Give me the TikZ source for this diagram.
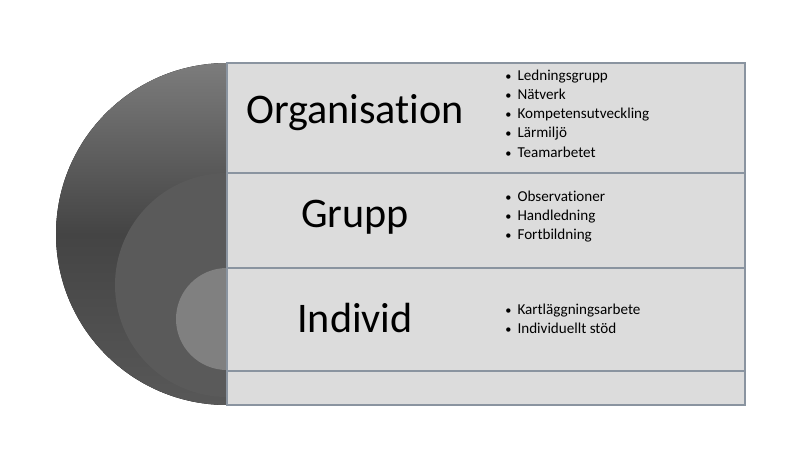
\documentclass[tikz,border=0pt]{standalone}
\usepackage{fontspec}
\setmainfont{Carlito}[Ligatures=NoCommon]
\usepackage{tikz}
\newcommand\itm{{\fontsize{7}{7}\selectfont\textbullet}\hspace{0.4em}}
\definecolor{ring_top}{RGB}{124,124,124}
\definecolor{ring_mid}{RGB}{68,68,68}
\definecolor{ring_bot}{RGB}{88,88,88}
\definecolor{ring_grp}{RGB}{90,90,90}
\definecolor{ring_ind}{RGB}{128,128,128}
\definecolor{row_fill}{RGB}{220,220,220}
\definecolor{row_edge}{RGB}{138,148,160}

\begin{document}
\begin{tikzpicture}
    \tikzstyle{row}=[draw=row_edge, fill=row_fill, line width=0.6pt]
    \tikzstyle{title}=[text=black, font=\fontsize{24}{28}\selectfont]
    \tikzstyle{items}=[anchor=west, align=left, inner sep=0pt, text=black,
                       font=\fontsize{8.6}{10.9}\selectfont]

    \useasboundingbox (0,0) rectangle (16,9);

    % half circles
    \fill[top color=ring_top, bottom color=ring_bot, middle color=ring_mid]
        (4.54,7.74) arc (90:270:3.42) -- cycle;
    \fill[ring_grp] (4.54,5.54) arc (90:270:2.24) -- cycle;
    \fill[ring_ind] (4.54,3.64) arc (90:270:1.02) -- cycle;

    % rows
    \coordinate (nw) at (4.54,7.74);
    \coordinate (se) at (14.90,0.90);
    \draw[row] (nw) rectangle (se);
    \coordinate (s1) at (4.54,5.54);  \coordinate (e1) at (14.90,5.54);
    \coordinate (s2) at (4.54,3.64);  \coordinate (e2) at (14.90,3.64);
    \coordinate (s3) at (4.54,1.58);  \coordinate (e3) at (14.90,1.58);
    \draw[row_edge, line width=0.6pt] (s1) -- (e1) (s2) -- (e2) (s3) -- (e3);

    \node[title] (org) at (7.10,6.74) {Organisation};
    \node[title] (grp) at (7.10,4.66) {Grupp};
    \node[title] (ind) at (7.10,2.64) {Individ};

    \node[items] (orgl) at (10.10,6.73) {\itm Ledningsgrupp\\ \itm Nätverk\\
        \itm Kompetensutveckling\\ \itm Lärmiljö\\ \itm Teamarbetet};
    \node[items] (grpl) at (10.10,4.67) {\itm Observationer\\ \itm Handledning\\
        \itm Fortbildning};
    \node[items] (indl) at (10.10,2.62) {\itm Kartläggningsarbete\\
        \itm Individuellt stöd};
\end{tikzpicture}
\end{document}
